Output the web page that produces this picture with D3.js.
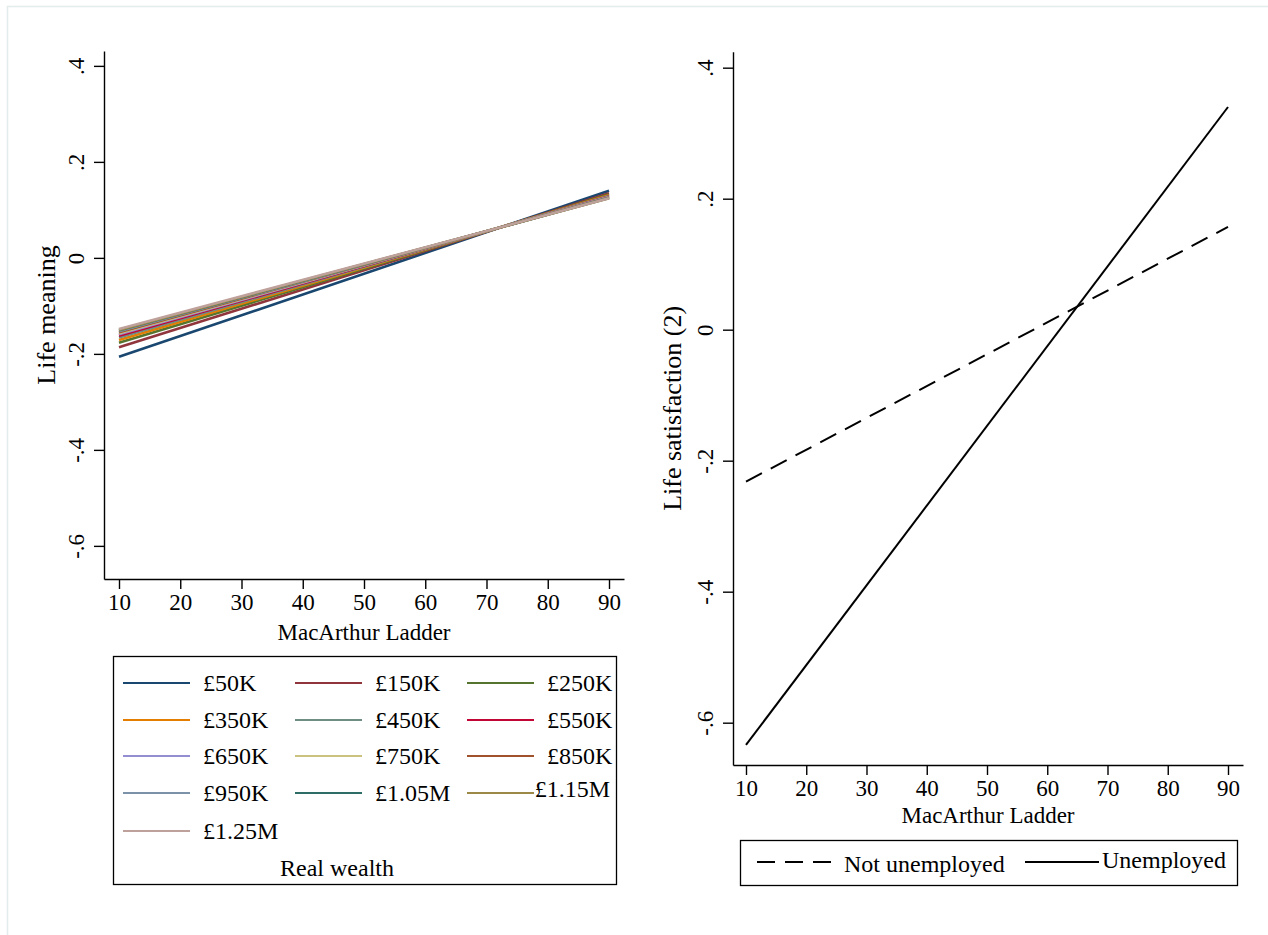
<!DOCTYPE html>
<html>
<head>
<meta charset="utf-8">
<script src="https://cdn.jsdelivr.net/npm/d3@7"></script>
<style>
  html, body { margin: 0; padding: 0; background: #fff; }
  svg { display: block; font-family: "Liberation Serif", "Times New Roman", serif; }
</style>
</head>
<body>
<svg id="chart" width="1268" height="935"></svg>
<script>
// MacArthur Ladder positions where each prediction line is evaluated
const ladder = [10, 90];
const xTicks = [10, 20, 30, 40, 50, 60, 70, 80, 90];
const yTicks = [-0.6, -0.4, -0.2, 0, 0.2, 0.4];
const yTickLabels = ["-.6", "-.4", "-.2", "0", ".2", ".4"];

// Left panel: predicted life meaning by real wealth
const wealthLevels = ["£50K", "£150K", "£250K", "£350K", "£450K", "£550K", "£650K",
                      "£750K", "£850K", "£950K", "£1.05M", "£1.15M", "£1.25M"];
const meaningAt10 = [-0.206, -0.186, -0.177, -0.171, -0.166, -0.162, -0.159,
                     -0.157, -0.155, -0.153, -0.151, -0.150, -0.148];
const meaningAt90 = [0.140, 0.1345, 0.132, 0.1305, 0.129, 0.128, 0.1272,
                     0.1265, 0.1258, 0.1252, 0.1247, 0.1243, 0.124];
const wealthColors = ["#1a476f", "#90353b", "#55752f", "#e37e00", "#6e8e84", "#c10534",
                      "#938dd2", "#cac27e", "#a0522d", "#7b92a8", "#2d6d66", "#9c8847", "#bfa19c"];

// Right panel: predicted life satisfaction by employment status
const employment = ["Not unemployed", "Unemployed"];
const satisfactionAt10 = [-0.232, -0.634];
const satisfactionAt90 = [0.157, 0.340];
const employmentDash = ["18,10", null];

const FONT = 23;        // tick labels and x-axis titles
const TITLE_FONT = 26;  // y-axis titles
const KEY_FONT = 24;    // legend entries
const svg = d3.select("#chart");

// faint outer frame of the graph region
svg.append("path")
  .attr("d", "M7.5,935 V6.5 H1268")
  .attr("fill", "none").attr("stroke", "#e3ecec").attr("stroke-width", 1.5);

function panel(opts) {
  const g = svg.append("g");
  const x = d3.scaleLinear().domain(opts.xDomain).range(opts.xRange);
  const y = d3.scaleLinear().domain(opts.yDomain).range(opts.yRange);

  // y axis with vertical tick labels
  const ya = g.append("g")
    .attr("transform", `translate(${opts.xRange[0]},0)`)
    .call(d3.axisLeft(y).tickValues(yTicks).tickFormat((d, i) => yTickLabels[i])
      .tickSize(10).tickSizeOuter(0));
  ya.select(".domain").attr("stroke-width", 1.4);
  ya.selectAll(".tick line").attr("stroke-width", 1.4);
  ya.selectAll(".tick text")
    .attr("x", null).attr("dy", "0.35em")
    .attr("text-anchor", "middle")
    .attr("transform", "translate(-28.5,0) rotate(-90)")
    .attr("font-size", FONT).attr("font-family", "Liberation Serif").attr("fill", "#000");

  // x axis
  const xa = g.append("g")
    .attr("transform", `translate(0,${opts.yRange[0]})`)
    .call(d3.axisBottom(x).tickValues(xTicks).tickSize(10).tickSizeOuter(0).tickPadding(5));
  xa.select(".domain").attr("stroke-width", 1.4);
  xa.selectAll(".tick line").attr("stroke-width", 1.4);
  xa.selectAll(".tick text")
    .attr("font-size", FONT).attr("font-family", "Liberation Serif").attr("fill", "#000");

  // axis titles
  g.append("text")
    .attr("transform", `translate(${opts.xRange[0] + opts.yTitleOffset},${(opts.yRange[0] + opts.yRange[1]) / 2}) rotate(-90)`)
    .attr("text-anchor", "middle").attr("dy", "0.35em")
    .attr("font-size", TITLE_FONT).text(opts.yTitle);
  g.append("text")
    .attr("x", (opts.xRange[0] + opts.xRange[1]) / 2)
    .attr("y", opts.yRange[0] + opts.xTitleOffset)
    .attr("text-anchor", "middle").attr("dy", "0.35em")
    .attr("font-size", FONT).text("MacArthur Ladder");

  return { g, x, y };
}

// ---------- left panel ----------
const left = panel({
  xDomain: [10 - 15 / 6.125, 90 + 15 / 6.125], xRange: [104, 624],
  yDomain: [-0.669, 0.431], yRange: [579, 51],
  yTitle: "Life meaning", yTitleOffset: -58.5, xTitleOffset: 53
});

const line = (sx, sy) => d3.line().x(d => sx(d[0])).y(d => sy(d[1]));
const meaningSeries = wealthLevels.map((w, i) => ({
  name: w, color: wealthColors[i],
  pts: [[ladder[0], meaningAt10[i]], [ladder[1], meaningAt90[i]]]
}));
left.g.append("g").selectAll("path").data(meaningSeries).join("path")
  .attr("d", d => line(left.x, left.y)(d.pts))
  .attr("fill", "none").attr("stroke", d => d.color).attr("stroke-width", 2.6);

// legend for wealth levels
const lb = { x0: 113, x1: 616, y0: 656, y1: 884 };
const lg = svg.append("g");
lg.append("rect").attr("x", lb.x0 + 0.5).attr("y", lb.y0 + 0.5)
  .attr("width", lb.x1 - lb.x0).attr("height", lb.y1 - lb.y0)
  .attr("fill", "#fff").attr("stroke", "#000").attr("stroke-width", 1.3);
const colLine = [123, 295, 467], colText = [203, 375, 547];
const rowY = [683, 720, 756, 793, 831];
const items = lg.selectAll("g.item").data(meaningSeries).join("g").attr("class", "item");
items.append("line")
  .attr("x1", (d, i) => colLine[i % 3]).attr("x2", (d, i) => colLine[i % 3] + 67)
  .attr("y1", (d, i) => rowY[Math.floor(i / 3)]).attr("y2", (d, i) => rowY[Math.floor(i / 3)])
  .attr("stroke", d => d.color).attr("stroke-width", 2);
items.append("text")
  .attr("x", (d, i) => colText[i % 3]).attr("y", (d, i) => rowY[Math.floor(i / 3)])
  .attr("dy", "0.35em").attr("font-size", KEY_FONT).text(d => d.name)
  .each(function () {
    // labels too wide for their slot are pulled back inside the frame
    const t = d3.select(this);
    const w = this.getComputedTextLength();
    const xs = +t.attr("x");
    if (xs + w > lb.x1 - 1) {
      t.attr("x", lb.x1 - 6 - w).attr("y", +t.attr("y") - 4);
    }
  });
lg.append("text").attr("x", 337).attr("y", 868).attr("dy", "0.35em")
  .attr("text-anchor", "middle").attr("font-size", KEY_FONT).text("Real wealth");

// ---------- right panel ----------
const right = panel({
  xDomain: [10 - 13 / 6.025, 90 + 15 / 6.025], xRange: [733, 1243],
  yDomain: [-0.6646, 0.4244], yRange: [765, 51.7],
  yTitle: "Life satisfaction (2)", yTitleOffset: -61, xTitleOffset: 50
});

const satSeries = employment.map((e, i) => ({
  name: e, dash: employmentDash[i],
  pts: [[ladder[0], satisfactionAt10[i]], [ladder[1], satisfactionAt90[i]]]
}));
right.g.append("g").selectAll("path").data(satSeries).join("path")
  .attr("d", d => line(right.x, right.y)(d.pts))
  .attr("fill", "none").attr("stroke", "#000").attr("stroke-width", 2)
  .attr("stroke-dasharray", d => d.dash);

// legend for employment status
const rb = { x0: 740, x1: 1237, y0: 840, y1: 885 };
const rg = svg.append("g");
rg.append("rect").attr("x", rb.x0 + 0.5).attr("y", rb.y0 + 0.5)
  .attr("width", rb.x1 - rb.x0).attr("height", rb.y1 - rb.y0)
  .attr("fill", "#fff").attr("stroke", "#000").attr("stroke-width", 1.3);
const rLine = [757, 1025], rText = [844, 1102], rY = [864, 860];
const ritems = rg.selectAll("g.item").data(satSeries).join("g").attr("class", "item");
ritems.append("line")
  .attr("x1", (d, i) => rLine[i]).attr("x2", (d, i) => rLine[i] + 74)
  .attr("y1", 862).attr("y2", 862)
  .attr("stroke", "#000").attr("stroke-width", 2)
  .attr("stroke-dasharray", d => d.dash);
ritems.append("text")
  .attr("x", (d, i) => rText[i]).attr("y", (d, i) => rY[i]).attr("dy", "0.35em")
  .attr("font-size", KEY_FONT).text(d => d.name);
</script>
</body>
</html>
